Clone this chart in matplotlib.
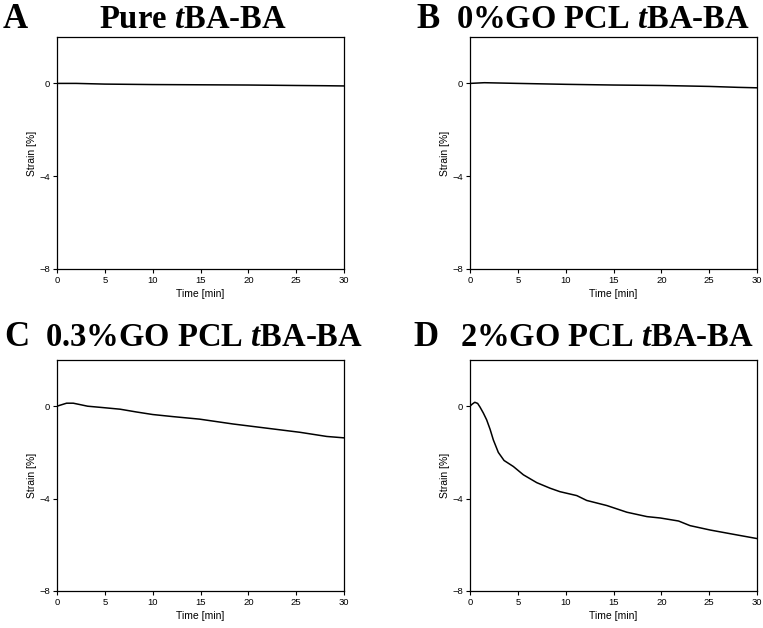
import matplotlib.pyplot as plt

plt.rcParams['font.family'] = 'Liberation Sans'
plt.rcParams['mathtext.fontset'] = 'custom'
plt.rcParams['mathtext.rm'] = 'Liberation Serif:bold'
plt.rcParams['mathtext.it'] = 'Liberation Serif:bold:italic'
plt.rcParams['mathtext.bf'] = 'Liberation Serif:bold'

# panel data: time [min], strain [%]
time_a = [0, 2, 5, 10, 15, 20, 25, 28, 30]
strain_a = [0, 0.0, -0.03, -0.05, -0.06, -0.07, -0.09, -0.10, -0.11]

time_b = [0, 1.5, 5, 10, 15, 20, 25, 28, 30]
strain_b = [0, 0.03, 0.0, -0.04, -0.07, -0.09, -0.13, -0.17, -0.19]

time_c = [0, 0.3, 1.0, 1.7, 2.4, 3.2, 4.8, 6.6, 8.3, 10.0, 12.1, 14.9,
          18.4, 21.9, 25.4, 28.2, 30]
strain_c = [0, 0.04, 0.13, 0.13, 0.07, 0.0, -0.06, -0.13, -0.25, -0.36,
            -0.45, -0.56, -0.77, -0.95, -1.13, -1.31, -1.37]

time_d = [0, 0.2, 0.5, 0.8, 1.05, 1.4, 1.74, 2.1, 2.44, 2.96, 3.56, 4.53,
          5.58, 6.98, 8.37, 9.4, 11.16, 12.2, 14.3, 16.4, 18.5, 19.9, 21.8,
          23.0, 25.1, 27.6, 30]
strain_d = [0, 0.08, 0.17, 0.12, -0.04, -0.3, -0.59, -1.0, -1.46, -2.0,
            -2.35, -2.61, -2.97, -3.31, -3.55, -3.70, -3.87, -4.08, -4.30,
            -4.59, -4.78, -4.84, -4.97, -5.17, -5.36, -5.55, -5.73]

letters = ['A', 'B', 'C', 'D']
titles = [r'Pure $\mathit{t}$BA-BA', r'0%GO PCL $\mathit{t}$BA-BA',
          r'0.3%GO PCL $\mathit{t}$BA-BA', r'2%GO PCL $\mathit{t}$BA-BA']
series = [(time_a, strain_a), (time_b, strain_b), (time_c, strain_c), (time_d, strain_d)]

W, H = 763, 628
fig = plt.figure(figsize=(W / 100, H / 100), dpi=100)

# axes boxes in pixels: left, top, right, bottom
boxes = [(57, 37, 344, 269), (470, 37, 757, 269), (57, 360, 344, 591), (470, 360, 757, 591)]
letter_x = [3, 416, 4, 413]
title_cx = [193, 603, 204, 607]
base_y = [28, 28, 346, 346]

for i in range(4):
    l, t, r, b = boxes[i]
    ax = fig.add_axes([l / W, 1 - b / H, (r - l) / W, (b - t) / H])
    x, y = series[i]
    ax.plot(x, y, color='black', lw=1.1)
    ax.set_xlim(0, 30)
    ax.set_ylim(-8, 2)
    ax.set_xticks([0, 5, 10, 15, 20, 25, 30])
    ax.set_yticks([0, -4, -8])
    ax.tick_params(labelsize=6.8, length=3, width=0.8, pad=2)
    ax.set_xlabel('Time [min]', fontsize=7.5, labelpad=3)
    ax.set_ylabel('Strain [%]', fontsize=7.5, labelpad=2)
    for s in ax.spines.values():
        s.set_linewidth(0.9)

    fig.text(letter_x[i] / W, 1 - base_y[i] / H, letters[i],
             fontsize=25, family='Liberation Serif', weight='bold',
             ha='left', va='baseline')
    fig.text(title_cx[i] / W, 1 - base_y[i] / H, titles[i],
             fontsize=23.5, family='Liberation Serif', weight='bold',
             ha='center', va='baseline')

fig.savefig('out.png', dpi=100)
